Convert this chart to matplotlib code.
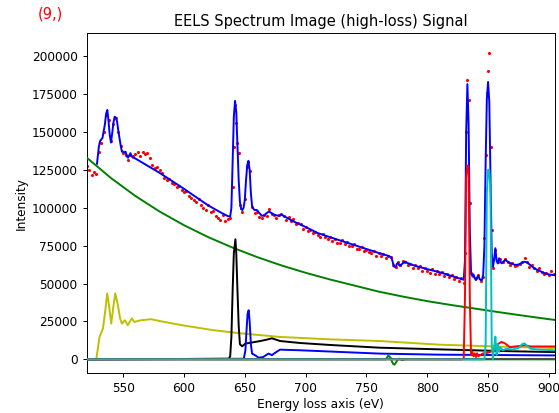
import matplotlib
matplotlib.use("Agg")
import matplotlib.pyplot as plt

# ---------------- data ----------------
# measured spectrum (red dots)
e_data = [520, 522, 524, 526, 528, 530, 532, 534, 536, 538, 540, 542, 544, 546, 548,
          550, 552, 554, 556, 558, 560, 562, 564, 566, 568, 570, 572, 574, 576, 578,
          580, 582, 584, 586, 588, 590, 592, 594, 596, 598, 600, 602, 604, 606, 608,
          610, 612, 614, 616, 618, 620, 622, 624, 626, 628, 630, 632, 634, 636, 638,
          640, 641, 642, 643, 644, 645, 646, 648, 650, 652, 653, 654, 656, 658, 660,
          662, 664, 666, 668, 670, 672, 674, 676, 678, 680, 682, 684, 686, 688, 690,
          692, 694, 696, 698, 700, 702, 704, 706, 708, 710, 712, 714, 716, 718, 720,
          722, 724, 726, 728, 730, 732, 734, 736, 738, 740, 742, 744, 746, 748, 750,
          752, 754, 756, 758, 760, 762, 764, 766, 768, 770, 772, 774, 776, 778, 780,
          782, 784, 786, 788, 790, 792, 794, 796, 798, 800, 802, 804, 806, 808, 810,
          812, 814, 816, 818, 820, 822, 824, 826, 828, 830, 831, 832, 833, 834, 835,
          836, 838, 840, 842, 844, 846, 847, 848, 849, 850, 851, 852, 853, 854, 856,
          858, 860, 862, 864, 866, 868, 870, 872, 874, 876, 878, 880, 882, 884, 886,
          888, 890, 892, 894, 896, 898, 900, 902, 904]
i_data = [127.5, 125.0, 121.5, 123.5, 122.5, 137.0, 143.0, 150.0, 161.0, 158.0, 144.0, 155.0, 159.0, 150.0, 141.0,
          136.0, 135.0, 131.5, 135.0, 134.0, 135.5, 136.5, 134.0, 137.0, 135.5, 136.0, 133.0, 128.0, 126.0, 127.0,
          125.0, 123.0, 119.5, 118.5, 119.0, 116.5, 116.0, 113.5, 114.5, 112.0, 110.5, 111.0, 108.0, 106.5, 105.0,
          104.0, 105.5, 101.5, 100.0, 98.5, 101.5, 97.5, 98.0, 94.5, 93.5, 92.0, 95.5, 91.5, 92.5, 93.5,
          114.0, 140.0, 168.0, 156.0, 143.0, 136.0, 102.0, 97.5, 106.0, 127.0, 130.0, 124.0, 100.5, 96.5, 97.5,
          94.0, 93.0, 95.0, 94.5, 99.0, 96.0, 95.0, 93.5, 95.5, 96.0, 94.5, 92.0, 94.0, 91.0, 92.5,
          89.0, 90.0, 89.5, 86.0, 87.0, 84.5, 85.5, 83.5, 84.0, 82.0, 80.5, 83.0, 81.0, 79.5, 80.5,
          78.0, 79.5, 77.0, 76.5, 79.0, 76.0, 77.5, 75.0, 74.5, 76.0, 73.0, 72.5, 74.0, 71.5, 72.0,
          71.0, 70.0, 71.5, 68.5, 70.0, 68.0, 69.5, 67.0, 68.5, 67.5, 62.0, 61.0, 64.5, 62.5, 65.0,
          64.0, 62.5, 63.0, 60.5, 62.0, 60.0, 61.5, 58.0, 60.5, 58.5, 57.0, 59.5, 56.5, 58.0, 56.0,
          57.5, 55.0, 56.0, 54.0, 55.5, 53.0, 54.5, 52.0, 53.5, 50.5, 70.0, 150.0, 184.0, 171.0, 103.0,
          57.0, 55.0, 53.5, 55.5, 52.0, 54.0, 80.0, 135.0, 176.0, 190.0, 202.0, 140.0, 85.0, 60.0, 72.0,
          64.0, 66.0, 64.5, 66.0, 64.0, 62.5, 63.5, 61.5, 62.0, 63.0, 64.0, 67.0, 64.5, 61.0, 62.0,
          60.5, 58.5, 60.0, 57.5, 56.0, 57.0, 55.5, 58.5, 56.0]

# full model (blue)
e_model = [528.5, 530, 531, 533, 535, 536, 537, 538, 539, 540, 541, 542, 543, 544, 545,
           546, 547, 548, 549, 550, 551, 552, 553, 554, 555, 556, 557, 558, 559, 560,
           580, 600, 610, 620, 630, 636, 638, 639, 640, 641, 642, 643, 644, 645, 646,
           647, 648, 649, 650, 651, 652, 653, 654, 655, 656, 657, 658, 660, 662, 664,
           666, 668, 670, 672, 674, 676, 678, 680, 690, 700, 710, 720, 730, 740, 750,
           760, 768, 770, 771, 772, 773, 774, 775, 776, 777, 778, 780, 782, 784, 790,
           800, 810, 820, 828, 830, 831, 832, 833, 834, 835, 836, 837, 838, 839, 840,
           841, 842, 843, 844, 845, 846, 847, 848, 849, 850, 851, 852, 853, 854, 855,
           856, 857, 858, 859, 860, 861, 862, 864, 866, 868, 870, 872, 875, 878, 880,
           882, 885, 888, 892, 896, 900, 905]
i_model = [129.0, 140.0, 144.0, 146.0, 155.0, 162.0, 164.5, 157.0, 148.0, 143.0, 149.0, 156.0, 160.0, 159.5, 157.0,
           151.0, 146.0, 141.0, 137.0, 137.0, 136.5, 137.0, 134.0, 133.0, 134.5, 136.0, 134.0, 133.0, 133.0, 132.5,
           123.0, 112.5, 107.0, 101.5, 97.0, 94.5, 94.2, 100.0, 130.0, 160.0, 170.5, 163.0, 140.0, 118.0, 104.0,
           99.0, 98.5, 100.0, 105.0, 118.0, 128.0, 131.0, 125.0, 110.0, 101.0, 99.5, 98.5, 98.5, 96.5, 94.7,
           95.0, 96.5, 97.5, 96.5, 95.5, 95.0, 94.7, 95.5, 91.0, 87.3, 83.3, 80.6, 78.0, 75.4, 72.8,
           70.2, 68.3, 67.5, 66.0, 63.0, 61.0, 61.0, 63.0, 63.5, 62.0, 62.0, 63.5, 64.4, 63.5, 61.7,
           59.5, 57.5, 55.0, 53.0, 52.5, 65.0, 150.0, 181.5, 155.0, 85.0, 57.0, 55.0, 56.0, 53.5, 52.3,
           54.0, 55.0, 53.0, 52.3, 52.5, 56.0, 75.0, 130.0, 172.0, 183.0, 170.0, 120.0, 70.0, 61.0, 66.0,
           73.3, 65.0, 63.3, 66.7, 65.0, 63.3, 64.0, 65.6, 64.5, 63.5, 63.0, 62.3, 62.5, 63.8, 64.4,
           64.0, 62.0, 60.0, 58.5, 57.0, 56.0, 55.5]

# background (green)
e_bg = [520, 540, 560, 580, 600, 620, 640, 660, 680, 700, 720, 740, 760, 780, 800,
        820, 840, 860, 880, 900, 905]
i_bg = [133.1, 119.6, 107.8, 97.5, 88.5, 80.6, 73.7, 67.5, 62.0, 57.1, 52.7, 48.7, 44.7, 41.4, 38.4,
        35.8, 33.4, 31.0, 28.7, 26.5, 26.0]

# O K edge (yellow)
e_ok = [520, 528, 530.6, 533.4, 535, 536.9, 538.5, 540.2, 542, 543.5, 545.7, 547.5, 549, 551.6, 553.8,
        557.1, 559.2, 564.7, 572.9, 583.7, 600, 624.5, 650, 679, 720, 760.8, 810, 860, 905]
i_ok = [0.0, 0.4, 14.8, 20.3, 30.0, 43.5, 35.0, 23.6, 35.0, 43.5, 35.8, 27.0, 23.6, 25.8, 22.5,
        27.0, 24.7, 25.8, 26.5, 24.7, 22.3, 19.2, 16.9, 14.8, 13.2, 12.1, 9.7, 8.4, 7.5]

# Mn L3 (black)
e_l3 = [520, 636.8, 638, 639, 640, 641, 642.3, 643, 644, 645, 646, 647.8, 650.5, 655, 662.8,
        668, 672.3, 679, 695.4, 720, 760.8, 809.8, 860, 905]
i_l3 = [0.0, 0.4, 2.0, 15.0, 45.0, 70.0, 79.2, 70.0, 45.0, 22.0, 10.0, 8.6, 10.4, 11.0, 12.1,
        13.0, 13.9, 12.1, 10.8, 9.5, 7.7, 6.6, 5.5, 4.8]

# Mn L2 (blue component)
e_l2 = [520, 649.2, 650.5, 651.5, 652.3, 653.2, 654, 655, 656, 658.7, 661.4, 665, 669.5, 672.3, 675.8,
        679, 695.4, 760.8, 809.8, 905]
i_l2 = [0.0, 0.4, 6.0, 20.0, 30.0, 32.4, 25.0, 10.0, 3.8, 2.6, 1.1, 1.5, 3.8, 2.8, 4.8,
        6.4, 6.0, 3.8, 3.1, 2.6]

# fine structure near 772 eV (green)
e_fs = [520, 766, 768, 770, 771, 772, 773, 774, 775, 777, 779, 782, 905]
i_fs = [0.0, 0.0, 2.5, 1.0, -1.5, -3.0, -3.5, -2.5, -1.0, 0.5, -0.5, 0.0, 0.0]

# La M5 (red component)
e_m5 = [520, 829, 830, 831, 832, 833, 834, 835, 836, 837, 838, 839, 840, 841, 842,
        844, 846, 848, 852, 856, 858, 861, 864, 868, 872, 876, 880, 885, 890, 905]
i_m5 = [0.0, 0.0, 1.0, 40.0, 120.0, 127.8, 127.0, 40.0, 3.0, 5.0, 2.0, 4.0, 1.5, 4.0, 2.0,
        3.0, 4.0, 4.0, 5.0, 7.0, 10.0, 11.5, 10.5, 8.0, 8.5, 8.8, 9.3, 8.5, 8.5, 8.5]

# La M4 (cyan component)
e_m4 = [520, 847, 848, 849, 850, 851, 852, 853, 854, 855, 856, 857, 858, 859, 860,
        862, 865, 870, 875, 878, 880, 882, 885, 890, 905]
i_m4 = [0.0, 0.0, 10.0, 110.0, 125.0, 125.0, 110.0, 10.0, 0.0, 8.0, 15.0, 3.0, 10.0, 5.0, 8.0,
        6.0, 7.0, 6.5, 7.5, 10.0, 10.5, 9.0, 7.0, 6.5, 6.0]

# extra component (magenta)
e_ex = [520, 905]
i_ex = [0.0, 0.0]

x_ticks = [550, 600, 650, 700, 750, 800, 850, 900]
y_ticks = [0, 25000, 50000, 75000, 100000, 125000, 150000, 175000, 200000]

# ---------------- plot ----------------
K = 1000.0
fig = plt.figure(figsize=(5.59, 4.13), dpi=100)
ax = fig.add_axes([0.155, 0.0961, 0.8378, 0.8230])

lw = 1.4
ax.plot(e_data, [v * K for v in i_data], 'r.', ms=2.5, zorder=2)
ax.plot(e_model, [v * K for v in i_model], color='b', lw=lw, zorder=3)
ax.plot(e_bg, [v * K for v in i_bg], color='g', lw=lw, zorder=3)
ax.plot(e_ok, [v * K for v in i_ok], color='y', lw=lw, zorder=3)
ax.plot(e_l3, [v * K for v in i_l3], color='k', lw=lw, zorder=3)
ax.plot(e_l2, [v * K for v in i_l2], color='b', lw=lw, zorder=3)
ax.plot(e_ex, [v * K for v in i_ex], color='m', lw=lw, zorder=3)
ax.plot(e_fs, [v * K for v in i_fs], color='g', lw=lw, zorder=3)
ax.plot(e_m5, [v * K for v in i_m5], color='r', lw=lw, zorder=3)
ax.plot(e_m4, [v * K for v in i_m4], color='c', lw=lw, zorder=3)

ax.set_xlim(520, 905)
ax.set_ylim(-9200, 215000)
ax.set_xticks(x_ticks)
ax.set_yticks(y_ticks)
ax.tick_params(labelsize=8.7, length=3.0, width=0.7)
for s in ax.spines.values():
    s.set_linewidth(0.7)
ax.set_xlabel("Energy loss axis (eV)", fontsize=8.7, labelpad=2)
ax.set_ylabel("Intensity", fontsize=8.7, labelpad=3)
ax.set_title("EELS Spectrum Image (high-loss) Signal", fontsize=10.5, pad=5)

fig.text(0.0895, 0.967, "(9,)", color='r', fontsize=10.5, ha='center', va='center')

fig.savefig("out.png", dpi=100)
